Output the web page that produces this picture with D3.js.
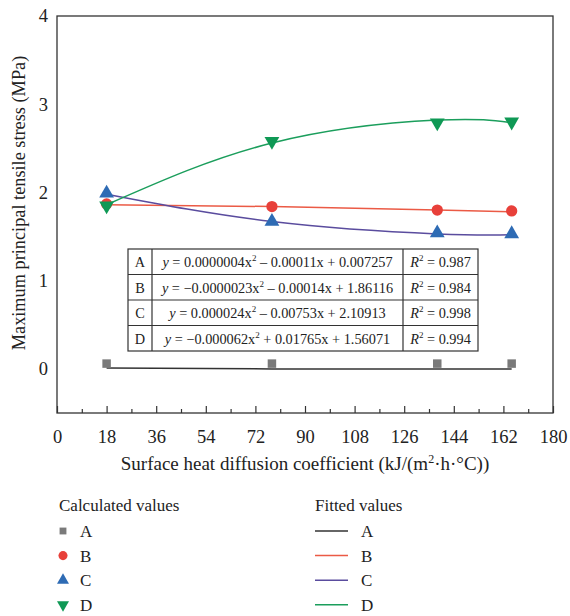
<!DOCTYPE html>
<html>
<head>
<meta charset="utf-8">
<script src="https://cdn.jsdelivr.net/npm/d3@7"></script>
<style>
  body { margin: 0; background: #fff; }
  svg text { font-family: "Liberation Serif", "DejaVu Serif", serif; fill: #222; }
</style>
</head>
<body>
<svg id="chart" width="570" height="616"></svg>
<script>
// calculated values
const xVals = [18, 78, 138, 165];
const valA = [0.06, 0.06, 0.06, 0.06];
const valB = [1.87, 1.84, 1.80, 1.79];
const valC = [1.99, 1.67, 1.54, 1.53];
const valD = [1.85, 2.58, 2.79, 2.80];

// fitted curves
const fitX = [18, 78, 138, 165];
const fitA = [0.01, 0.00, 0.00, 0.00];
const fitB = [1.86, 1.84, 1.80, 1.78];
const fitC = [1.98, 1.67, 1.53, 1.52];
const fitD = [1.86, 2.56, 2.82, 2.79];

const seriesNames = ['A', 'B', 'C', 'D'];
const equations = [
  ['y = 0.0000004x', ' \u2013 0.00011x + 0.007257', '0.987'],
  ['y = \u22120.0000023x', ' \u2013 0.00014x + 1.86116', '0.984'],
  ['y = 0.000024x', ' \u2013 0.00753x + 2.10913', '0.998'],
  ['y = \u22120.000062x', ' + 0.01765x + 1.56071', '0.994']
];

const xTicks = d3.range(0, 181, 18);
const yTicks = [0, 1, 2, 3, 4];

const markerColor = ['#7a7a7a', '#e8403a', '#2e6bb4', '#0f9955'];
const lineColor = ['#333333', '#eb5a45', '#5a4c9e', '#1b9e5c'];
const markerType = [d3.symbolSquare, d3.symbolCircle, d3.symbolTriangle, d3.symbolTriangle];

const margin = { top: 16, left: 57, right: 17, bottom: 203 };
const width = 570 - margin.left - margin.right;
const height = 616 - margin.top - margin.bottom;

const svg = d3.select('#chart');
const g = svg.append('g').attr('transform', `translate(${margin.left}, ${margin.top})`);

const xScale = d3.scaleLinear().domain([0, 180]).range([0, width]);
const yScale = d3.scaleLinear().domain([-0.5, 4]).range([height, 0]);

// frame
g.append('rect')
  .attr('width', width).attr('height', height)
  .attr('fill', 'none').attr('stroke', '#333').attr('stroke-width', 1.3);

// x axis, ticks pointing in
const xAxis = d3.axisBottom(xScale).tickValues(xTicks).tickSizeInner(-7).tickSizeOuter(0).tickPadding(17);
const gx = g.append('g').attr('transform', `translate(0, ${height})`).call(xAxis);
gx.select('.domain').remove();
gx.selectAll('line').attr('stroke', '#333').attr('stroke-width', 1.2);
gx.selectAll('text').attr('font-size', 18.5).attr('fill', '#222')
  .style('font-family', '"Liberation Serif", serif');

const minor = d3.axisBottom(xScale).tickValues(d3.range(9, 180, 18)).tickSizeInner(-4).tickSizeOuter(0).tickFormat('');
const gm = g.append('g').attr('transform', `translate(0, ${height})`).call(minor);
gm.select('.domain').remove();
gm.selectAll('line').attr('stroke', '#333').attr('stroke-width', 1.2);

// y axis: labels only
const yAxis = d3.axisLeft(yScale).tickValues(yTicks).tickSize(0).tickPadding(9).tickFormat(d3.format('d'));
const gy = g.append('g').call(yAxis);
gy.select('.domain').remove();
gy.selectAll('text').attr('font-size', 18.5).attr('fill', '#222')
  .style('font-family', '"Liberation Serif", serif');

// axis titles
svg.append('text')
  .attr('x', 305).attr('y', 470)
  .attr('text-anchor', 'middle').attr('font-size', 19)
  .html('Surface heat diffusion coefficient (kJ/(m<tspan dy="-7" font-size="12">2</tspan><tspan dy="7">\u00b7h\u00b7\u00b0C))</tspan>');

svg.append('text')
  .attr('transform', 'translate(25, 203) rotate(-90)')
  .attr('text-anchor', 'middle').attr('font-size', 18.3)
  .text('Maximum principal tensile stress (MPa)');

// fitted curves
const fits = [fitA, fitB, fitC, fitD];
const line = d3.line()
  .x((d, i) => xScale(fitX[i]))
  .y(d => yScale(d))
  .curve(d3.curveNatural);
fits.forEach((f, k) => {
  g.append('path')
    .attr('d', line(f))
    .attr('fill', 'none')
    .attr('stroke', lineColor[k])
    .attr('stroke-width', 1.5);
});

// markers
const vals = [valA, valB, valC, valD];
const symSize = [72, 100, 95, 95];
vals.forEach((v, k) => {
  g.selectAll(null)
    .data(v)
    .enter()
    .append('path')
    .attr('d', d3.symbol(markerType[k], symSize[k]))
    .attr('transform', (d, i) => `translate(${xScale(xVals[i])}, ${yScale(d)})` + (k === 3 ? ' rotate(180)' : ''))
    .attr('fill', markerColor[k]);
});

// equation table
const tbl = svg.append('g');
const tx = [128, 152, 403, 478];
const rowH = 25.5;
const ty0 = 249;
tbl.append('rect')
  .attr('x', tx[0]).attr('y', ty0)
  .attr('width', tx[3] - tx[0]).attr('height', rowH * 4)
  .attr('fill', '#fff').attr('stroke', '#333').attr('stroke-width', 1.2);
[1, 2, 3].forEach(r => {
  tbl.append('line').attr('x1', tx[0]).attr('x2', tx[3])
    .attr('y1', ty0 + r * rowH).attr('y2', ty0 + r * rowH)
    .attr('stroke', '#333').attr('stroke-width', 1.2);
});
[tx[1], tx[2]].forEach(x => {
  tbl.append('line').attr('x1', x).attr('x2', x)
    .attr('y1', ty0).attr('y2', ty0 + rowH * 4)
    .attr('stroke', '#333').attr('stroke-width', 1.2);
});
equations.forEach((e, r) => {
  const yb = ty0 + r * rowH + 18;
  tbl.append('text').attr('x', (tx[0] + tx[1]) / 2).attr('y', yb)
    .attr('text-anchor', 'middle').attr('font-size', 14.3).text(seriesNames[r]);
  const t = tbl.append('text').attr('x', (tx[1] + tx[2]) / 2).attr('y', yb)
    .attr('text-anchor', 'middle').attr('font-size', 14.3);
  t.append('tspan').attr('font-style', 'italic').text('y');
  t.append('tspan').text(e[0].slice(1));
  t.append('tspan').attr('dy', -6).attr('font-size', 9).text('2');
  t.append('tspan').attr('dy', 6).text(e[1]);
  const r2 = tbl.append('text').attr('x', (tx[2] + tx[3]) / 2).attr('y', yb)
    .attr('text-anchor', 'middle').attr('font-size', 14.3);
  r2.append('tspan').attr('font-style', 'italic').text('R');
  r2.append('tspan').attr('dy', -6).attr('font-size', 9).text('2');
  r2.append('tspan').attr('dy', 6).text(' = ' + e[2]);
});

// legends
const leg = svg.append('g');
leg.append('text').attr('x', 59).attr('y', 511).attr('font-size', 17).text('Calculated values');
leg.append('text').attr('x', 315).attr('y', 511).attr('font-size', 17).text('Fitted values');
seriesNames.forEach((n, k) => {
  const cy = 531 + k * 24.6;
  leg.append('path')
    .attr('d', d3.symbol(markerType[k], symSize[k] * 0.65))
    .attr('transform', `translate(63, ${cy})` + (k === 3 ? ' rotate(180)' : ''))
    .attr('fill', markerColor[k]);
  leg.append('text').attr('x', 80).attr('y', cy + 6).attr('font-size', 17).text(n);
  leg.append('line').attr('x1', 315).attr('x2', 348).attr('y1', cy).attr('y2', cy)
    .attr('stroke', lineColor[k]).attr('stroke-width', 1.5);
  leg.append('text').attr('x', 361).attr('y', cy + 6).attr('font-size', 17).text(n);
});
</script>
</body>
</html>
